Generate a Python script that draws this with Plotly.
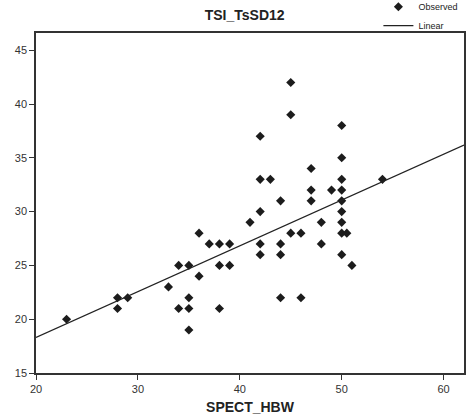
import numpy as np
import plotly.graph_objects as go

spect_hbw = [23, 28, 28, 29, 33, 34, 35, 34, 35, 35, 35, 36, 36, 37, 38, 39, 38, 39, 38,
             41, 45, 45, 42, 50, 50, 47, 42, 43, 50, 54, 47, 49, 50, 47, 44, 50, 42, 50,
             48, 50, 45, 46, 50, 50.5, 42, 42, 44, 44, 48, 50, 51, 44, 46]
tsi_tssd12 = [20, 22, 21, 22, 23, 25, 25, 21, 21, 22, 19, 24, 28, 27, 27, 27, 25, 25, 21,
              29, 42, 39, 37, 38, 35, 34, 33, 33, 33, 33, 32, 32, 32, 31, 31, 31, 30, 30,
              29, 29, 28, 28, 28, 28, 27, 26, 27, 26, 27, 26, 25, 22, 22]

# Linear fit as printed in the reference
fit_intercept = 9.78
fit_slope = 0.426

x_ticks = [20, 30, 40, 50, 60]
y_ticks = [15, 20, 25, 30, 35, 40, 45]
x_range = [20, 62]
y_range = [15, 46.6]

line_x = np.array(x_range, dtype=float)
line_y = fit_intercept + fit_slope * line_x

fig = go.Figure()
fig.add_trace(go.Scatter(
    x=spect_hbw, y=tsi_tssd12, mode="markers", name="Observed",
    marker=dict(symbol="diamond", size=7, color="#1c1c1c"),
    cliponaxis=False,
))
fig.add_trace(go.Scatter(
    x=line_x, y=line_y, mode="lines", name="Linear",
    line=dict(color="#222222", width=1.3),
))

axis_common = dict(
    showgrid=False, zeroline=False, showline=True, linecolor="#333333", linewidth=1.5,
    mirror=True, ticks="outside", ticklen=5, tickwidth=1.3, tickcolor="#333333",
    automargin=False,
    tickfont=dict(family="Arial, Liberation Sans", size=11, color="#333333"),
)
fig.update_xaxes(range=x_range, tickvals=x_ticks, **axis_common,
                 title=dict(text="<b>SPECT_HBW</b>", standoff=8,
                            font=dict(family="Arial, Liberation Sans", size=14, color="#222222")))
fig.update_yaxes(range=y_range, tickvals=y_ticks, ticklabelstandoff=0, **axis_common)

fig.update_layout(
    width=466, height=419,
    margin=dict(l=36, r=2, t=33, b=46, autoexpand=False),
    paper_bgcolor="white", plot_bgcolor="white",
    title=dict(text="<b>TSI_TsSD12</b>", x=0.525, xanchor="center", y=0.965, yanchor="middle",
               font=dict(family="Arial, Liberation Sans", size=14, color="#222222")),
    legend=dict(x=0.80, xanchor="left", y=1.12, yanchor="top",
                font=dict(family="Arial, Liberation Sans", size=9, color="#222222"),
                itemwidth=30, tracegroupgap=0, bgcolor="rgba(0,0,0,0)"),
    showlegend=True,
)

fig.write_html("out.html", config={"displayModeBar": False},
               post_script="document.body.style.margin='0';document.body.style.overflow='hidden';")
